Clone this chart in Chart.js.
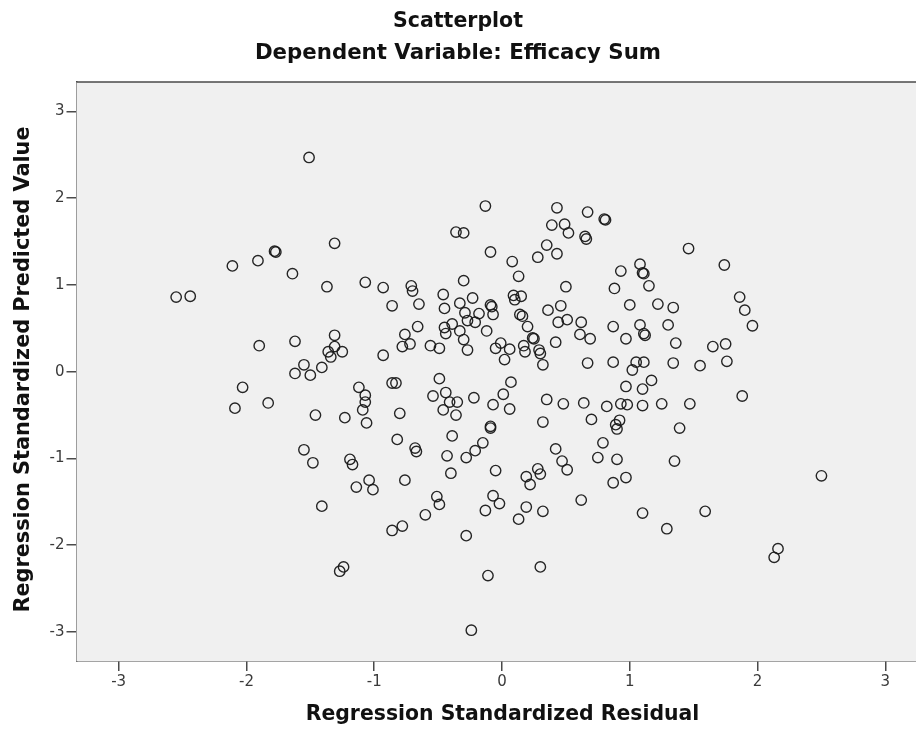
<!DOCTYPE html>
<html>
<head>
<meta charset="utf-8">
<script src="https://cdn.jsdelivr.net/npm/chart.js@4.4.1/dist/chart.umd.min.js"></script>
<style>
  html, body { margin: 0; padding: 0; background: #ffffff; }
  #wrap { width: 916px; height: 730px; position: relative; }
</style>
</head>
<body>
<div id="wrap"><canvas id="c" width="916" height="730"></canvas></div>
<script>
// ---- Data ----
const chartTitle = "Scatterplot";
const chartSubtitle = "Dependent Variable: Efficacy Sum";
const xAxisTitle = "Regression Standardized Residual";
const yAxisTitle = "Regression Standardized Predicted Value";
const xTickValues = [-3, -2, -1, 0, 1, 2, 3];
const yTickValues = [-3, -2, -1, 0, 1, 2, 3];

// Regression Standardized Residual (x)
const residual = [
  -1.51,-1.31,-1.78,-1.77,-1.91,-2.11,-1.64,-1.37,-1.07,-2.55,-2.44,-1.90,-1.62,-1.31,-1.31,-1.36,-1.34,-1.25,-1.55,-1.41,-1.62,-1.50,
  -2.03,-2.09,-1.83,-1.46,-1.23,-1.12,-1.07,-1.07,-1.09,-1.06,-1.55,-1.48,-1.19,-1.17,-1.04,-1.14,-1.01,-1.41,-1.24,-1.27,
  -0.13,-0.36,-0.30,0.43,0.67,0.80,0.81,0.39,0.49,0.52,0.65,0.66,0.35,0.43,0.28,-0.09,0.08,0.13,-0.30,
  -0.93,-0.71,-0.70,-0.86,-0.65,-0.46,-0.45,-0.23,-0.33,-0.29,-0.18,-0.09,-0.08,-0.07,-0.27,-0.21,0.09,0.15,0.10,0.14,0.16,0.20,0.24,0.25,
  0.36,0.46,0.50,0.44,0.51,0.42,0.62,0.61,0.69,0.93,0.88,1.08,1.10,1.11,1.15,1.00,0.87,0.97,1.08,1.11,1.12,0.67,0.87,1.05,1.11,1.02,1.17,
  -0.76,-0.66,-0.78,-0.72,-0.93,-0.56,-0.49,-0.45,-0.39,-0.44,-0.33,-0.30,-0.27,-0.12,-0.01,-0.05,0.06,0.02,0.17,0.18,0.29,0.30,0.32,-0.49,
  1.46,1.74,1.86,1.90,1.96,1.22,1.34,1.30,1.36,1.65,1.75,1.34,1.55,1.76,
  1.10,1.10,1.25,1.47,1.88,1.39,1.35,1.10,1.59,1.29,2.50,2.16,2.13,
  -0.86,-0.83,-0.80,-0.82,-0.68,-0.67,-0.76,
  -0.54,-0.44,-0.41,-0.35,-0.46,-0.36,-0.22,-0.39,-0.43,-0.40,-0.28,-0.21,-0.15,-0.09,-0.09,-0.07,0.01,0.07,0.06,-0.05,
  -0.51,-0.49,-0.60,-0.86,-0.78,-0.28,-0.07,-0.02,-0.13,-0.11,-0.24,
  0.19,0.28,0.30,0.22,0.19,0.13,0.32,0.30,
  0.35,0.32,0.48,0.42,0.47,0.51,0.64,0.70,0.82,0.93,0.98,0.92,0.89,0.90,0.79,0.75,0.90,0.87,0.97,0.62,0.97
];

// Regression Standardized Predicted Value (y)
const predicted = [
  2.47,1.48,1.39,1.38,1.28,1.22,1.13,0.98,1.03,0.86,0.87,0.30,0.35,0.42,0.29,0.23,0.17,0.23,0.08,0.05,-0.02,-0.04,
  -0.18,-0.42,-0.36,-0.50,-0.53,-0.18,-0.27,-0.35,-0.44,-0.59,-0.90,-1.05,-1.01,-1.07,-1.25,-1.33,-1.36,-1.55,-2.25,-2.30,
  1.91,1.61,1.60,1.89,1.84,1.76,1.75,1.69,1.70,1.60,1.56,1.53,1.46,1.36,1.32,1.38,1.27,1.10,1.05,
  0.97,0.99,0.93,0.76,0.78,0.89,0.73,0.85,0.79,0.68,0.67,0.77,0.75,0.66,0.59,0.57,0.88,0.87,0.83,0.66,0.64,0.52,0.39,0.38,
  0.71,0.76,0.98,0.57,0.60,0.34,0.57,0.43,0.38,1.16,0.96,1.24,1.14,1.13,0.99,0.77,0.52,0.38,0.54,0.44,0.42,0.10,0.11,0.11,0.11,0.02,-0.10,
  0.43,0.52,0.29,0.32,0.19,0.30,0.27,0.51,0.55,0.44,0.47,0.37,0.25,0.47,0.33,0.27,0.26,0.14,0.30,0.23,0.25,0.21,0.08,-0.08,
  1.42,1.23,0.86,0.71,0.53,0.78,0.74,0.54,0.33,0.29,0.32,0.10,0.07,0.12,
  -0.20,-0.39,-0.37,-0.37,-0.28,-0.65,-1.03,-1.63,-1.61,-1.81,-1.20,-2.04,-2.14,
  -0.13,-0.13,-0.48,-0.78,-0.88,-0.92,-1.25,
  -0.28,-0.24,-0.35,-0.35,-0.44,-0.50,-0.30,-0.74,-0.97,-1.17,-0.99,-0.91,-0.82,-0.63,-0.65,-0.38,-0.26,-0.12,-0.43,-1.14,
  -1.44,-1.53,-1.65,-1.83,-1.78,-1.89,-1.43,-1.52,-1.60,-2.35,-2.98,
  -1.21,-1.12,-1.18,-1.30,-1.56,-1.70,-1.61,-2.25,
  -0.32,-0.58,-0.37,-0.89,-1.03,-1.13,-0.36,-0.55,-0.40,-0.37,-0.38,-0.56,-0.61,-0.66,-0.82,-0.99,-1.01,-1.28,-1.22,-1.48,-0.17
];

const points = residual.map((x, i) => ({ x: x, y: predicted[i] }));

const FONT = '"DejaVu Sans", "Liberation Sans", sans-serif';

const frameAndText = {
  id: 'frameAndText',
  beforeDatasetsDraw(chart) {
    const { ctx, chartArea: a } = chart;
    ctx.save();
    ctx.fillStyle = '#f0f0f0';
    ctx.fillRect(a.left, a.top, a.right - a.left, a.bottom - a.top);
    ctx.strokeStyle = '#4a4a4a';
    ctx.lineWidth = 1.5;
    ctx.beginPath();
    ctx.moveTo(a.left, a.top);
    ctx.lineTo(a.right, a.top);
    ctx.stroke();
    ctx.restore();
  },
  afterDraw(chart) {
    const { ctx, chartArea: a, width } = chart;
    ctx.save();
    ctx.fillStyle = '#111111';
    ctx.textAlign = 'center';
    ctx.textBaseline = 'alphabetic';
    ctx.font = 'bold 20.5px ' + FONT;
    ctx.fillText(chartTitle, width / 2, 27);
    ctx.font = 'bold 21.3px ' + FONT;
    ctx.fillText(chartSubtitle, width / 2, 58.5);
    ctx.font = 'bold 20.4px ' + FONT;
    ctx.fillText(xAxisTitle, 502.5, 719.5);
    ctx.font = 'bold 20.8px ' + FONT;
    ctx.translate(29, (a.top + a.bottom) / 2 - 2);
    ctx.rotate(-Math.PI / 2);
    ctx.fillText(yAxisTitle, 0, 0);
    ctx.restore();
  }
};

new Chart(document.getElementById('c'), {
  type: 'scatter',
  data: {
    datasets: [{
      label: 'Efficacy Sum',
      data: points,
      pointStyle: 'circle',
      pointRadius: 5.2,
      pointHoverRadius: 5.2,
      borderWidth: 1.4,
      borderColor: 'rgba(25,25,25,0.95)',
      backgroundColor: 'rgba(0,0,0,0)'
    }]
  },
  options: {
    responsive: false,
    animation: false,
    events: [],
    layout: { autoPadding: false, padding: { top: 82, left: 0, right: 0, bottom: 0 } },
    plugins: {
      legend: { display: false },
      tooltip: { enabled: false },
      title: { display: false }
    },
    scales: {
      x: {
        type: 'linear',
        min: -3.33,
        max: 3.24,
        afterBuildTicks: (s) => { s.ticks = xTickValues.map(v => ({ value: v })); },
        afterFit: (s) => { s.height = 69; s.paddingLeft = 0; s.paddingRight = 0; },
        border: { display: true, color: '#4a4a4a', width: 1.5 },
        grid: { drawOnChartArea: false, drawTicks: true, tickLength: 10, color: '#4a4a4a', lineWidth: 1.5 },
        ticks: { font: { family: FONT, size: 15 }, color: '#3a3a3a', padding: 2, maxRotation: 0 }
      },
      y: {
        type: 'linear',
        min: -3.335,
        max: 3.34,
        afterBuildTicks: (s) => { s.ticks = yTickValues.map(v => ({ value: v })); },
        afterFit: (s) => { s.width = 76.5; s.paddingTop = 0; s.paddingBottom = 0; },
        border: { display: true, color: '#4a4a4a', width: 1.5 },
        grid: { drawOnChartArea: false, drawTicks: true, tickLength: 10, color: '#4a4a4a', lineWidth: 1.5 },
        ticks: { font: { family: FONT, size: 15 }, color: '#3a3a3a', padding: 2 }
      }
    }
  },
  plugins: [frameAndText]
});
</script>
</body>
</html>
